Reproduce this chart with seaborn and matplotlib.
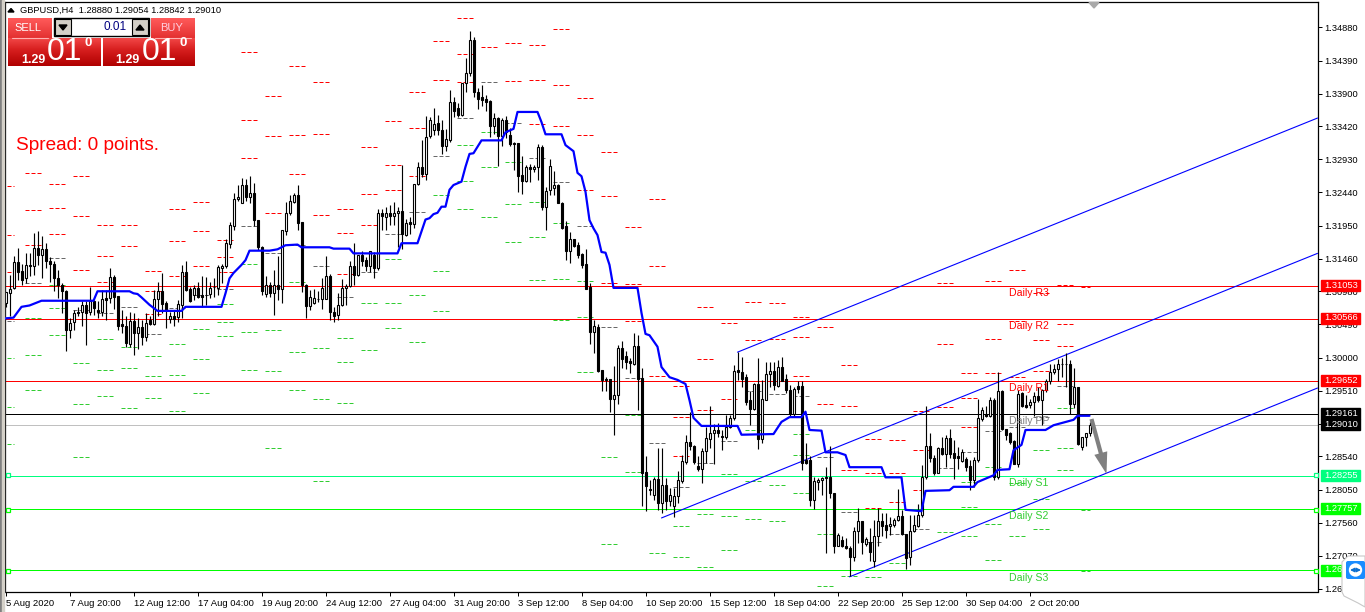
import numpy as np
import pandas as pd
import matplotlib
matplotlib.use("Agg")
import matplotlib.pyplot as plt
from matplotlib.colors import LinearSegmentedColormap
from matplotlib.patches import Rectangle, Polygon, FancyBboxPatch
import seaborn as sns

# All prices below are in units of 0.0001 (13097 means 1.3097)
open_ = [13080,13096,13103,13141,13128,13117,13137,13136,13162,13152,
13161,13142,13139,13117,13107,13098,13041,13053,13067,13067,
13077,13067,13084,13071,13067,13088,13088,13119,13091,13050,
13047,13020,13054,13037,13045,13031,13055,13050,13087,13099,
13080,13057,13061,13060,13078,13126,13101,13092,13103,13092,
13093,13094,13104,13103,13132,13136,13168,13195,13235,13229,
13255,13238,13243,13204,13164,13094,13107,13096,13107,13102,
13187,13213,13230,13241,13200,13108,13076,13080,13087,13087,
13087,13120,13068,13063,13077,13103,13106,13135,13122,13151,
13144,13136,13151,13133,13213,13208,13214,13209,13213,13216,
13181,13201,13198,13257,13281,13272,13327,13336,13346,13337,
13313,13322,13378,13369,13359,13406,13420,13469,13392,13385,
13382,13379,13342,13354,13328,13351,13329,13317,13317,13270,
13261,13281,13278,13281,13311,13222,13247,13250,13255,13229,
13194,13158,13175,13166,13153,13138,13105,13038,13045,12982,
12968,12968,12939,12944,13014,13002,12995,12991,13017,12970,
12831,12806,12797,12821,12785,12812,12788,12781,12795,12818,
12846,12875,12870,12840,12836,12862,12880,12888,12893,12884,
12883,12897,12910,12982,12979,12971,12937,12924,12961,12879,
12938,12976,12980,12958,12986,12969,12952,12916,12958,12958,
12849,12849,12789,12816,12819,12824,12824,12800,12722,12731,
12722,12718,12705,12743,12759,12724,12728,12700,12737,12758,
12753,12751,12753,12760,12766,12740,12705,12744,12751,12767,
12823,12869,12852,12830,12867,12858,12881,12859,12854,12847,
12850,12840,12819,12848,12909,12916,12914,12938,12823,12950,
12894,12888,12876,12843,12947,12930,12930,12935,12943,12937,
12952,12965,12979,12983,12991,12990,12991,12931,12956,12868,
12882,12888]
close = [13097,13101,13141,13127,13114,13137,13135,13162,13152,13161,
13142,13139,13117,13107,13098,13041,13051,13066,13066,13077,
13066,13084,13073,13067,13087,13085,13119,13090,13047,13046,
13021,13054,13037,13045,13031,13051,13050,13087,13099,13079,
13071,13061,13057,13079,13126,13100,13083,13103,13090,13090,
13092,13103,13105,13134,13136,13169,13196,13234,13238,13255,
13238,13243,13203,13164,13099,13107,13096,13107,13102,13188,
13214,13231,13241,13199,13107,13076,13089,13088,13086,13103,
13120,13067,13062,13078,13103,13106,13135,13122,13151,13143,
13136,13157,13133,13213,13209,13214,13209,13213,13216,13182,
13199,13198,13256,13281,13272,13326,13351,13345,13337,13313,
13323,13378,13365,13359,13406,13420,13469,13392,13382,13381,
13378,13342,13354,13328,13351,13333,13315,13315,13269,13261,
13281,13278,13281,13311,13222,13246,13283,13255,13229,13191,
13158,13175,13165,13151,13137,13102,13038,13046,12980,12967,
12967,12939,12944,13014,12998,12994,12992,13017,12969,12830,
12810,12804,12820,12785,12812,12788,12797,12796,12819,12847,
12875,12869,12845,12835,12862,12881,12889,12893,12888,12883,
12898,12911,12980,12979,12968,12935,12924,12961,12879,12939,
12975,12980,12959,12986,12966,12952,12916,12954,12953,12844,
12844,12790,12818,12819,12822,12822,12800,12722,12738,12721,
12718,12705,12744,12759,12727,12732,12713,12737,12758,12751,
12745,12754,12760,12766,12740,12704,12743,12752,12768,12824,
12869,12852,12830,12867,12858,12881,12857,12852,12851,12860,
12839,12819,12848,12910,12923,12914,12938,12823,12950,12894,
12886,12875,12843,12946,12928,12927,12935,12943,12937,12952,
12965,12979,12983,12991,12990,12991,12931,12956,12872,12882,
12888,12901]
high = [13097,13122,13150,13162,13138,13155,13154,13184,13187,13180,
13169,13149,13142,13130,13110,13100,13058,13071,13075,13083,
13083,13104,13085,13083,13100,13100,13132,13122,13091,13070,
13061,13068,13066,13058,13055,13066,13061,13100,13112,13125,
13083,13068,13070,13085,13137,13142,13105,13107,13111,13121,
13119,13111,13117,13137,13139,13175,13200,13243,13255,13265,
13264,13268,13258,13204,13165,13120,13112,13130,13150,13188,
13230,13240,13243,13255,13201,13109,13100,13101,13098,13117,
13150,13124,13075,13095,13116,13109,13143,13170,13151,13158,
13149,13158,13156,13219,13219,13222,13225,13230,13222,13284,
13205,13208,13257,13289,13321,13357,13356,13369,13359,13351,
13338,13396,13385,13376,13406,13443,13483,13474,13398,13403,
13388,13380,13361,13356,13354,13357,13339,13319,13317,13298,
13285,13286,13285,13315,13314,13252,13294,13276,13257,13230,
13202,13186,13175,13171,13154,13160,13110,13056,13049,12982,
12972,12969,12988,13019,13025,13009,13000,13036,13033,12984,
12855,12819,12824,12866,12866,12822,12807,12807,12832,12856,
12886,12919,12871,12854,12866,12898,12928,12902,12903,12893,
12915,12915,12989,13008,13001,12975,12950,12962,12999,12967,
12994,12994,12994,12997,13001,12975,12960,12956,12965,12966,
12874,12854,12824,12822,12824,12839,12869,12800,12741,12736,
12733,12721,12750,12777,12759,12735,12748,12760,12777,12770,
12770,12765,12763,12806,12775,12740,12767,12767,12784,12841,
12929,12888,12856,12868,12883,12885,12895,12878,12868,12865,
12853,12848,12853,12939,12927,12929,12942,12940,12979,12952,
12895,12890,12878,12952,12949,12944,12939,12949,12957,12954,
12969,12991,12991,12998,13000,13007,12996,12985,12957,12883,
12889,12905]
low = [13075,13061,13101,13115,13108,13110,13121,13122,13137,13117,
13133,13112,13098,13088,13066,13009,13029,13041,13061,13046,
13019,13063,13063,13058,13061,13055,13080,13072,13041,13036,
13016,13016,13004,13013,13019,13024,13048,13048,13061,13066,
13044,13051,13046,13052,13059,13098,13082,13085,13088,13075,
13078,13088,13090,13093,13110,13132,13162,13189,13231,13228,
13231,13229,13194,13159,13093,13090,13090,13063,13085,13080,
13181,13210,13228,13188,13097,13059,13070,13079,13082,13072,
13086,13055,13053,13055,13076,13077,13104,13107,13121,13136,
13128,13127,13117,13129,13189,13189,13196,13196,13164,13161,
13179,13183,13191,13255,13267,13262,13324,13329,13329,13301,
13305,13319,13356,13356,13357,13392,13416,13385,13368,13372,
13365,13326,13331,13283,13313,13324,13312,13277,13244,13242,
13260,13260,13275,13262,13218,13189,13241,13240,13228,13190,
13144,13140,13163,13147,13133,13101,13020,13007,12979,12950,
12951,12919,12885,12932,12985,12983,12977,12989,12923,12781,
12774,12797,12790,12775,12770,12775,12780,12765,12785,12814,
12842,12864,12842,12832,12814,12844,12866,12842,12883,12864,
12879,12896,12908,12967,12957,12930,12901,12923,12865,12874,
12937,12957,12952,12957,12965,12947,12913,12913,12947,12834,
12843,12780,12776,12804,12797,12711,12792,12711,12721,12720,
12717,12677,12699,12726,12709,12721,12699,12691,12721,12736,
12733,12738,12750,12758,12738,12688,12693,12742,12750,12764,
12821,12846,12827,12829,12856,12838,12851,12821,12836,12846,
12833,12804,12809,12846,12907,12912,12912,12819,12821,12893,
12878,12873,12842,12838,12927,12925,12926,12914,12934,12900,
12949,12961,12976,12966,12971,12957,12916,12925,12871,12864,
12870,12884]

trend_idx = [0,2,3,4,6,9,22,23,31,32,33,34,36,38,44,45,54,55,56,57,59,60,61,66,68,70,73,74,81,82,86,87,98,99,
103,105,106,107,108,109,110,111,112,114,115,116,117,119,124,125,127,128,133,134,135,139,140,142,143,144,145,
146,147,148,149,150,151,152,158,159,160,161,163,164,166,168,170,171,172,174,183,184,192,194,196,199,200,201,
204,205,208,210,211,219,220,224,225,229,230,236,237,242,243,247,248,251,252,254,255,260,262,267,268,271]
trend_val = [13058,13059,13067,13075,13077,13084,13084,13098,13098,13095,13094,13089,13078,13069,13069,13075,13075,
13095,13117,13125,13137,13144,13158,13158,13160,13166,13167,13163,13163,13161,13161,13154,13154,13169,
13169,13204,13206,13212,13214,13223,13223,13248,13255,13260,13282,13301,13302,13321,13321,13333,13338,13363,13363,
13348,13330,13330,13314,13305,13273,13268,13245,13203,13191,13181,13156,13155,13137,13103,13103,13066,13035,13033,
13016,12986,12971,12967,12961,12937,12911,12899,12899,12886,12887,12905,12912,12912,12920,12893,12892,12860,12860,
12856,12838,12838,12823,12823,12775,12773,12803,12804,12809,12809,12816,12826,12834,12835,12863,12871,12893,12893,
12900,12908,12914,12914]

nan = float("nan")
r3 = [13254,13273,13257,13268,13196,13196,13128,13220,13230,13174,13452,13387,13431,13407,13220,13311,13350,13392,13468,13502,nan,nan,13462,13486,13384,13304,13193,13234,12958,13075,nan,13082,13081,13060,nan,12989,12880,12878,12921,13110,12977,13113,13129,13095,13107,13105]
r2 = [13181,13218,13221,13209,13150,13165,13098,13172,13187,13149,13351,13327,13329,13330,13184,13242,13285,13339,13410,13449,nan,13465,13410,13403,13329,13239,13109,13135,12912,12998,13051,13026,13027,13030,13045,12928,12829,12829,12863,13020,12940,13027,13054,13026,13050,13057]
r1 = [13126,13166,13183,13129,13112,13106,13064,13121,13135,13126,13295,13214,13271,13211,13124,13196,13248,13268,nan,13407,13459,13409,13345,13342,13248,13110,13054,12973,12855,12923,12939,nan,nan,12973,12931,12834,12778,12787,12804,12927,12897,12977,12971,12980,13017,12965]
pp = [13054,13110,13147,13070,13066,13075,13035,13073,13092,13101,13194,13155,13166,13135,13090,13126,13183,13215,13298,13354,13407,13347,13295,13260,13194,13045,12970,12874,12809,12844,12877,12951,12946,12943,12853,12772,12727,12739,12747,12837,12860,12891,12897,12912,12958,12916]
s1 = [12999,13059,13107,12992,13027,13016,13002,13020,13042,13079,13138,13041,13112,13014,13029,13081,13146,13092,13240,13314,13333,13289,13230,13199,13113,12853,12915,12711,12751,12769,12828,12893,nan,12887,12739,12677,12676,12696,nan,12742,12816,12838,12815,12863,12925,12825]
s2 = [12927,13004,13073,12931,12982,12985,12973,12974,12998,13053,13038,12980,13008,12939,12993,13011,13081,13023,13128,13261,13282,13227,13178,13116,13060,12724,12831,nan,12705,12690,12766,12818,12812,12856,12662,nan,nan,nan,nan,nan,12779,12754,12736,12791,12866,12775]
s3 = [12872,12952,13033,12853,12943,12925,12940,12921,12948,13032,12982,12866,12952,12818,12933,nan,13044,nan,13069,13220,13208,13171,13115,13056,12979,nan,12776,nan,nan,nan,12716,12761,12758,12800,nan,nan,nan,nan,nan,nan,12736,12701,nan,12747,12834,12685]

level_r3, level_r2, level_r1 = 1.31053, 1.30566, 1.29652
level_pp, level_bid = 1.29161, 1.29010
level_s1, level_s2, level_s3 = 1.28255, 1.27757, 1.26855

channel_start = [183, 164, 211]
channel_start_val = [13008, 12763, 12676]
channel_end = 328
channel_end_val = [13354, 13154, 12955]

ytick_vals = [1.34880,1.34390,1.33900,1.33420,1.32930,1.32440,1.31950,1.31460,1.30980,1.30490,1.30000,1.29510,1.29020,1.28540,1.28050,1.27560,1.27070,1.26580]
xtick_labels = ["5 Aug 2020","7 Aug 20:00","12 Aug 12:00","17 Aug 04:00","19 Aug 20:00","24 Aug 12:00","27 Aug 04:00",
                "31 Aug 20:00","3 Sep 12:00","8 Sep 04:00","10 Sep 20:00","15 Sep 12:00","18 Sep 04:00","22 Sep 20:00",
                "25 Sep 12:00","30 Sep 04:00","2 Oct 20:00"]

sns.set_theme(style="white")
plt.rcParams["font.family"] = ["Liberation Sans", "DejaVu Sans"]

W, H = 1365, 612
PX = 0.72  # one pixel in points
fig = plt.figure(figsize=(W/100, H/100), dpi=100, facecolor="white")
L, R, T, B = 4.5, 1318, 2, 591.5
ax = fig.add_axes([L/W, 1-B/H, (R-L)/W, (B-T)/H])
ax.set_facecolor("white")
ax.set_xlim(-0.25, -0.25 + (R-L)/4)
ax.set_ylim(1.26543, 1.35255)

df = pd.DataFrame({"open": open_, "close": close, "high": high, "low": low}).astype(float) / 1e4
df["i"] = np.arange(len(df))
up = df.close >= df.open

# horizontal pivots
for lv, c in [(level_r3,"#ff0000"),(level_r2,"#ff0000"),(level_r1,"#ff0000"),(level_pp,"#000000"),
              (level_bid,"#c0c0c0"),(level_s1,"#00ff7f"),(level_s2,"#00ff00"),(level_s3,"#00ff00")]:
    ax.axhline(lv, color=c, lw=PX, zorder=2)

# daily pivot dashes
for vals, c in [(r3,"#ff0000"),(r2,"#ff0000"),(r1,"#ff0000"),(pp,"#696969"),(s1,"#32cd32"),(s2,"#32cd32"),(s3,"#32cd32")]:
    for k, v in enumerate(vals):
        x0 = 6*(k-1) + 4.9
        x1 = min(x0 + 4, 271.2)
        if k == 0:
            x1 = 2.2
        ax.plot([x0, x1], [v/1e4, v/1e4], color=c, lw=PX, dashes=(4, 2), zorder=1.5, dash_capstyle="butt")

# channels
for s, sv, ev in zip(channel_start, channel_start_val, channel_end_val):
    ax.plot([s, channel_end], [sv/1e4, ev/1e4], color="#0000ff", lw=0.8, zorder=3)

# candles
ax.vlines(df.i, df.low, df.high, color="black", lw=PX*1.15, zorder=4)
bot = df[["open","close"]].min(axis=1)
hgt = (df.open-df.close).abs().clip(lower=0.00002)
ax.bar(df.i[up], hgt[up], bottom=bot[up], width=0.5, color="white", edgecolor="black", lw=PX*1.1, zorder=5)
ax.bar(df.i[~up], hgt[~up], bottom=bot[~up], width=0.5, color="black", edgecolor="black", lw=PX*1.1, zorder=5)

# trend line
trend = pd.DataFrame({"i": trend_idx, "v": np.array(trend_val)/1e4})
sns.lineplot(data=trend, x="i", y="v", color="#0000ff", lw=1.6, ax=ax, zorder=6, estimator=None, sort=False)
ax.set_xlabel(""); ax.set_ylabel("")

for s in ax.spines.values():
    s.set_color("black"); s.set_linewidth(0.9)
ax.set_xticks(np.arange(0, 257, 16))
ax.set_xticklabels(xtick_labels, ha="left", fontsize=6.8, color="black")
ax.tick_params(axis="x", length=3, width=PX, color="black", pad=2.6, bottom=True)
ax.yaxis.tick_right()
ax.set_yticks(ytick_vals)
ax.set_yticklabels([f"{v:.5f}" for v in ytick_vals], fontsize=6.7, color="black")
ax.tick_params(axis="y", length=2.6, width=PX, color="black", pad=1.6, right=True)

# overlay in pixels
ov = fig.add_axes([0, 0, 1, 1], zorder=10)
ov.set_xlim(0, W); ov.set_ylim(H, 0); ov.axis("off"); ov.patch.set_alpha(0)

# left window strip
ov.add_patch(Rectangle((0, 0), 1.5, H, color="#808080"))
ov.add_patch(Rectangle((1.5, 0), 2, H, color="#d4d0c8"))
# top gray marker
ov.add_patch(Polygon([[1089,2.5],[1099,2.5],[1094,8]], color="#a9a9a9"))

# header
ov.add_patch(Polygon([[8,12],[14,12],[11,8.5]], color="black"))
ov.text(20, 10.5, "GBPUSD,H4  1.28880 1.29054 1.28842 1.29010", fontsize=6.7, va="center", color="black")

# trade panel
cm = LinearSegmentedColormap.from_list("p", ["#ff5a5a", "#d82020", "#b00000"])
grad = np.linspace(0, 1, 64).reshape(-1, 1)
for box in [(8,52,18,38),(151,195,18,38)]:
    ov.imshow(grad[:32], cmap=cm, vmin=0, vmax=1.4, extent=(box[0],box[1],box[3],box[2]), aspect="auto", zorder=1)
for box in [(8,100.5,38,66),(103,195,38,66)]:
    ov.imshow(grad, cmap=cm, vmin=-0.2, vmax=1, extent=(box[0],box[1],box[3],box[2]), aspect="auto", zorder=1)
ov.set_xlim(0, W); ov.set_ylim(H, 0)
ov.plot([12,48],[37.5,37.5], color="#ffb0b0", lw=0.8, zorder=2)
ov.plot([155,191],[37.5,37.5], color="#ffb0b0", lw=0.8, zorder=2)
ov.add_patch(Rectangle((54,18),95,18, fc="white", ec="black", lw=1, zorder=2))
for x0 in (55,132):
    ov.add_patch(Rectangle((x0,19),16,16, fc="#d4d0c8", ec="black", lw=0.8, zorder=3))
ov.add_patch(Polygon([[59,25],[67,25],[63,30]], color="black", zorder=4))
ov.add_patch(Polygon([[136,30],[144,30],[140,25]], color="black", zorder=4))
ov.text(127, 27, "0.01", fontsize=8.5, ha="right", va="center", color="#000080", zorder=4)
ov.text(28, 28, "SELL", fontsize=8, ha="center", va="center", color="white", zorder=4)
ov.text(172, 28, "BUY", fontsize=8, ha="center", va="center", color="#ffd0e0", zorder=4)
for off in (0, 94.5):
    ov.text(33+off, 60, "1.29", fontsize=9, fontweight="bold", ha="center", va="center", color="white", zorder=4)
    ov.text(65+off, 52.5, "01", fontsize=23, ha="center", va="center", color="white", zorder=4)
    ov.text(88.5+off, 43, "0", fontsize=9.5, fontweight="bold", ha="center", va="center", color="white", zorder=4)

ov.text(15.5, 145, "Spread: 0 points.", fontsize=13.7, color="#ff0000", va="center")

# daily labels
for txt, y, c in [("Daily R3",293.5,"#ff0000"),("Daily R2",326,"#ff0000"),("Daily R1",388,"#ff0000"),
                  ("Daily PP",421,"#808080"),("Daily S1",483,"#32cd32"),("Daily S2",516,"#32cd32"),("Daily S3",578,"#32cd32")]:
    ov.text(1009, y, txt, fontsize=7.6, color=c, va="center")

# price flags
for txt, y, c in [("1.31053",285.5,"#ff0000"),("1.30566",318,"#ff0000"),("1.29652",380.5,"#ff0000"),
                  ("1.29161",413.5,"#000000"),("1.29010",424.5,"#000000"),("1.28255",475,"#00ff7f"),
                  ("1.27757",508.5,"#00ff00"),("1.26855",570,"#00ff00")]:
    ov.add_patch(Rectangle((1321, y-5.5), 39, 11, color=c, zorder=2))
    ov.text(1324.5, y, txt, fontsize=6.7, color="white", va="center", zorder=3)

# handles on object lines
for y, c in [(475,"#00ff7f"),(509.5,"#00ff00"),(570.5,"#00ff00")]:
    for x in (7.5, 1315.5):
        ov.add_patch(Rectangle((x-2, y-2), 4, 4, fc="white", ec=c, lw=0.9, zorder=3))

# arrow
ov.annotate("", xy=(1106.5, 474), xytext=(1091.5, 419),
            arrowprops=dict(arrowstyle="simple,head_width=0.8,head_length=1.3,tail_width=0.25", color="#808080", lw=0, shrinkA=0, shrinkB=0))

# remote-control badge
ov.add_patch(Polygon([[1342,562],[1348,556],[1365,556],[1365,607],[1358,603],[1344,596],[1342,592]], fc="white", ec="#c8c8c8", lw=0.8, zorder=5))
ov.add_patch(FancyBboxPatch((1347,562),17,16, boxstyle="round,pad=1,rounding_size=2", fc="#1a8cff", ec="none", zorder=6))
ov.add_patch(plt.Circle((1355.5,570),6.7, fc="white", ec="none", zorder=7))
ov.annotate("", xy=(1361,570), xytext=(1350,570), arrowprops=dict(arrowstyle="<|-|>", color="#0e6fd0", lw=1, mutation_scale=6, shrinkA=0, shrinkB=0), zorder=8)

fig.savefig("out.png", dpi=100, facecolor="white")
